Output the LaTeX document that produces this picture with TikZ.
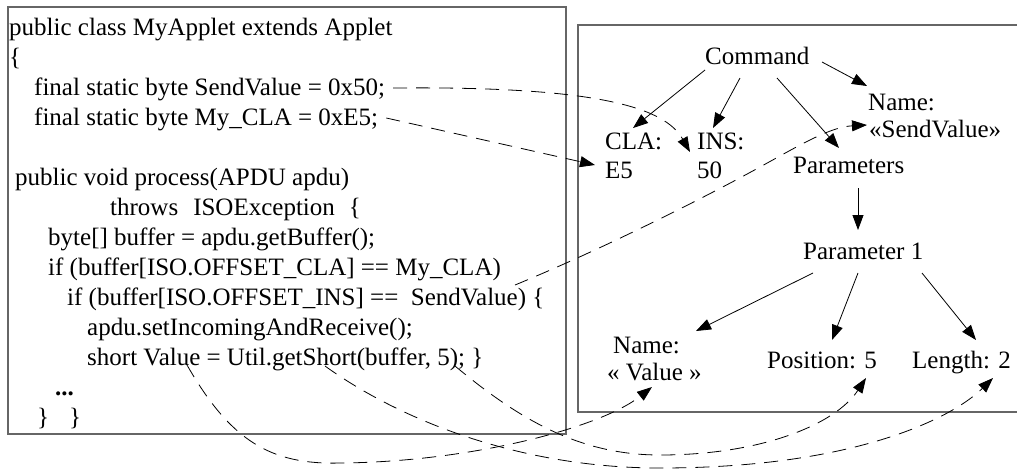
\documentclass[tikz,border=0pt]{standalone}
\usepackage{fontspec}
\setmainfont{Liberation Serif}
\usetikzlibrary{arrows.meta,calc}
\begin{document}
\begin{tikzpicture}[x=1pt,y=-1pt,
  code/.style={anchor=base west,inner sep=0pt,font=\fontsize{25}{30}\selectfont},
  lbl/.style={anchor=base west,inner sep=0pt,font=\fontsize{25}{30}\selectfont},
  boxline/.style={draw=black!60,line width=1.4pt},
  arr/.style={-{Triangle[length=15pt,width=11pt]},line width=0.8pt},
  darr/.style={arr,dash pattern=on 14pt off 9pt}]
\useasboundingbox (0,0) rectangle (1017,475);
\fill[white] (0,0) rectangle (1017,475);
% frames
\draw[boxline] (8,7) rectangle (566,434);
\draw[boxline] (1022,25) -- (578,25) -- (578,412) -- (1022,412);
% code lines
\node[code] (c1)  at (9,35)   {public class MyApplet extends Applet};
\node[code] (c2)  at (9,65)   {\{};
\node[code] (c3)  at (34,95)  {final static byte SendValue = 0x50;};
\node[code] (c4)  at (34,125) {final static byte My\_CLA = 0xE5;};
\node[code] (c6)  at (15,185) {public void process(APDU apdu)};
\node[code] (c7)  at (110,215) {throws\hspace{15pt}ISOException\hspace{14pt}\{};
\node[code] (c8)  at (48,245) {byte[] buffer = apdu.getBuffer();};
\node[code] (c9)  at (48,275) {if (buffer[ISO.OFFSET\_CLA] == My\_CLA)};
\node[code] (c10) at (67,305) {if (buffer[ISO.OFFSET\_INS] ==\ \ SendValue) \{};
\node[code] (c11) at (87,335) {apdu.setIncomingAndReceive();};
\node[code] (c12) at (87,365) {short Value = Util.getShort(buffer, 5); \}};
\node[code] (c13) at (55,395) {\textbf{...}};
\node[code] (c14) at (37,425) {\}\hspace{20pt}\}};
% tree labels
\node[lbl] (cmd)    at (705,64)  {Command};
\node[lbl] (name1)  at (868,110) {Name:};
\node[lbl] (sendv)  at (869,137) {«SendValue»};
\node[lbl] (cla)    at (605,149) {CLA:};
\node[lbl] (e5)     at (605,178) {E5};
\node[lbl] (ins)    at (697,149) {INS:};
\node[lbl] (v50)    at (697,178) {50};
\node[lbl] (params) at (793,173) {Parameters};
\node[lbl] (p1)     at (803,259) {Parameter 1};
\node[lbl] (name2)  at (613,353) {Name:};
\node[lbl] (valq)   at (607,380) {« Value »};
\node[lbl] (pos)    at (767,368) {Position: 5};
\node[lbl] (len)    at (912,368) {Length: 2};
% solid tree arrows
\draw[arr] ($(cmd.base west)+(0,6)$)     -- ($(cla.base west)+(28,-21)$);
\draw[arr] ($(cmd.base west)+(35,14)$)   -- ($(ins.base west)+(16,-21)$);
\draw[arr] ($(cmd.base west)+(72,14)$)   -- ($(params.base west)+(46,-25)$);
\draw[arr] ($(cmd.base west)+(117,-2)$)  -- ($(name1.base west)+(-1,-24)$);
\draw[arr] ($(params.base west)+(65,15)$) -- ($(p1.base west)+(55,-29)$);
\draw[arr] ($(p1.base west)+(10,14)$)    -- ($(name2.base west)+(83,-22)$);
\draw[arr] ($(p1.base west)+(55,14)$)    -- ($(pos.base west)+(65,-28)$);
\draw[arr] ($(p1.base west)+(119,14)$)   -- ($(len.base west)+(64,-28)$);
% dashed mapping arrows
\draw[darr] ($(c3.base east)+(8,-7)$) .. controls (600,86) and (665,108) .. ($(ins.base west)+(-7,3)$);
\draw[darr] ($(c4.base east)+(8,-7)$) -- ($(e5.base west)+(-10,-13)$);
\draw[darr] ($(c10.base west)+(448,-20)$) .. controls (600,250) and (700,200) .. (760,167)
   .. controls (800,145) and (830,127) .. ($(sendv.base west)+(-2,-12)$);
\draw[darr] ($(c12.base west)+(100,0)$) .. controls (230,440) and (270,465) .. (340,463)
   .. controls (470,462) and (600,428) .. ($(valq.base west)+(45,7)$);
\draw[darr] ($(c12.base west)+(368,1)$) .. controls (520,420) and (580,455) .. (660,455)
   .. controls (760,455) and (835,425) .. ($(pos.base west)+(99,10)$);
\draw[darr] ($(c12.base west)+(238,1)$) .. controls (400,420) and (520,468) .. (660,468)
   .. controls (850,468) and (950,420) .. ($(len.base west)+(81,10)$);
\end{tikzpicture}
\end{document}
